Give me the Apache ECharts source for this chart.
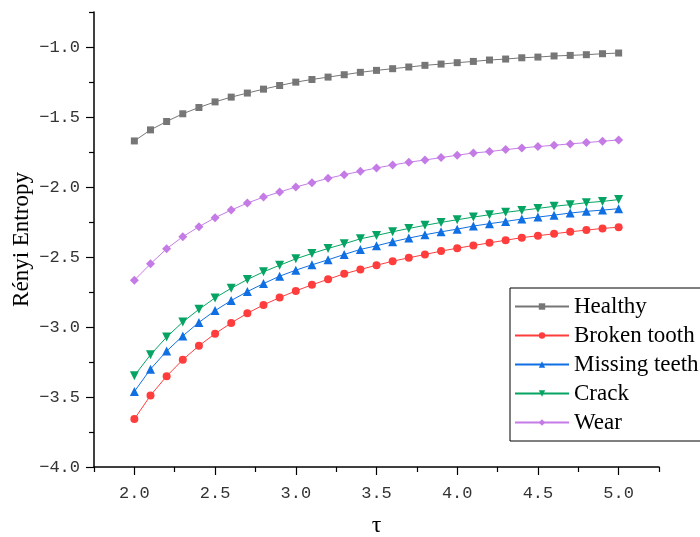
<!DOCTYPE html>
<html>
<head>
<meta charset="utf-8">
<title>Rényi Entropy vs tau</title>
<script src="https://cdn.jsdelivr.net/npm/echarts@6/dist/echarts.min.js"></script>
<style>
  html, body { margin: 0; padding: 0; background: #fff; }
  #chart { width: 700px; height: 537px; }
</style>
</head>
<body>
<div id="chart"></div>
<script>
// tau values 2.0 .. 5.0, step 0.1
const tau = [2.0, 2.1, 2.2, 2.3, 2.4, 2.5, 2.6, 2.7, 2.8, 2.9, 3.0, 3.1, 3.2, 3.3, 3.4, 3.5,
  3.6, 3.7, 3.8, 3.9, 4.0, 4.1, 4.2, 4.3, 4.4, 4.5, 4.6, 4.7, 4.8, 4.9, 5.0]

const healthy = [-1.671, -1.592, -1.532, -1.477, -1.432, -1.392, -1.358, -1.329, -1.301, -1.275,
  -1.251, -1.232, -1.215, -1.198, -1.181, -1.167, -1.155, -1.143, -1.131, -1.122, -1.112,
  -1.103, -1.093, -1.086, -1.077, -1.072, -1.064, -1.060, -1.055, -1.048, -1.043]

const brokenTooth = [-3.658, -3.489, -3.351, -3.234, -3.134, -3.048, -2.971, -2.902, -2.842, -2.790,
  -2.742, -2.699, -2.659, -2.620, -2.589, -2.559, -2.530, -2.506, -2.482, -2.458, -2.437,
  -2.418, -2.399, -2.380, -2.362, -2.348, -2.334, -2.320, -2.308, -2.296, -2.287]

const missingTeeth = [-3.461, -3.301, -3.172, -3.064, -2.967, -2.883, -2.811, -2.747, -2.690, -2.637,
  -2.594, -2.556, -2.520, -2.482, -2.446, -2.420, -2.391, -2.365, -2.341, -2.320, -2.301,
  -2.279, -2.262, -2.246, -2.229, -2.215, -2.201, -2.186, -2.174, -2.165, -2.155]

const crack = [-3.348, -3.198, -3.072, -2.964, -2.874, -2.792, -2.723, -2.661, -2.606, -2.559,
  -2.513, -2.475, -2.439, -2.406, -2.370, -2.346, -2.320, -2.296, -2.274, -2.253, -2.234,
  -2.215, -2.198, -2.181, -2.167, -2.153, -2.138, -2.126, -2.112, -2.103, -2.090]

const wear = [-2.666, -2.549, -2.441, -2.355, -2.284, -2.219, -2.165, -2.115, -2.072, -2.036,
  -2.000, -1.969, -1.938, -1.912, -1.888, -1.864, -1.843, -1.823, -1.807, -1.790, -1.773,
  -1.757, -1.747, -1.733, -1.721, -1.711, -1.702, -1.692, -1.683, -1.673, -1.664]

const seriesNames = ['Healthy', 'Broken tooth', 'Missing teeth', 'Crack', 'Wear']

// labelled (major) and unlabelled (minor) ticks
const xMajorTicks = [2.0, 2.5, 3.0, 3.5, 4.0, 4.5, 5.0]
const xMinorTicks = [1.75, 2.25, 2.75, 3.25, 3.75, 4.25, 4.75, 5.25]
const yMajorTicks = [-4.0, -3.5, -3.0, -2.5, -2.0, -1.5, -1.0]
const yMinorTicks = [-3.75, -3.25, -2.75, -2.25, -1.75, -1.25, -0.75]

const chart = echarts.init(document.getElementById('chart'))

const tickFont = 'Liberation Mono'
const textFont = 'Liberation Serif'

function pairs(values) {
  return tau.map((t, i) => [t, values[i]])
}

function makeSeries(name, values, color, symbol, size, rotate) {
  return {
    name: name,
    type: 'line',
    data: pairs(values),
    symbol: symbol,
    symbolSize: size,
    symbolRotate: rotate || 0,
    showAllSymbol: true,
    lineStyle: { color: color, width: 1 },
    itemStyle: { color: color },
    emphasis: { disabled: true }
  }
}

const xRange = { min: 1.75, max: 5.25, interval: 0.25 }
const yRange = { min: -4, max: -0.75, interval: 0.25 }

// second axis on the same grid only draws the short minor ticks
function minorAxis(range, ticks, position) {
  return Object.assign({
    type: 'value',
    position: position,
    splitLine: { show: false },
    axisLine: { show: false },
    axisLabel: { show: false },
    axisTick: { show: true, customValues: ticks, length: 5, lineStyle: { color: '#000', width: 1.2 } }
  }, range)
}

const option = {
  animation: false,
  grid: { left: 94, right: 41, top: 12, bottom: 70, outerBoundsMode: 'none', containLabel: false },
  legend: {
    data: seriesNames,
    orient: 'vertical',
    left: 510,
    top: 288,
    padding: [7, 2, 7, 4],
    itemWidth: 54,
    itemHeight: 8,
    itemGap: 6,
    borderColor: '#000',
    borderWidth: 1,
    backgroundColor: '#fff',
    textStyle: { fontFamily: textFont, fontSize: 23, color: '#000', lineHeight: 23 }
  },
  xAxis: [
    Object.assign({
      type: 'value',
      position: 'bottom',
      name: 'τ',
      nameLocation: 'middle',
      nameGap: 47,
      nameTextStyle: { fontFamily: textFont, fontSize: 24, color: '#000' },
      splitLine: { show: false },
      axisLine: { lineStyle: { color: '#000', width: 1.5 } },
      axisTick: { customValues: xMajorTicks, length: 8, lineStyle: { color: '#000', width: 1.2 } },
      axisLabel: {
        customValues: xMajorTicks,
        margin: 18,
        fontFamily: tickFont,
        fontSize: 17,
        color: '#333',
        formatter: v => v.toFixed(1)
      }
    }, xRange),
    minorAxis(xRange, xMinorTicks, 'bottom')
  ],
  yAxis: [
    Object.assign({
      type: 'value',
      position: 'left',
      name: 'Rényi Entropy',
      nameLocation: 'middle',
      nameGap: 61,
      nameMoveOverlap: false,
      nameTextStyle: { fontFamily: textFont, fontSize: 23, color: '#000' },
      splitLine: { show: false },
      axisLine: { show: true, lineStyle: { color: '#000', width: 1.5 } },
      axisTick: { show: true, customValues: yMajorTicks, length: 8, lineStyle: { color: '#000', width: 1.2 } },
      axisLabel: {
        customValues: yMajorTicks,
        margin: 14,
        fontFamily: tickFont,
        fontSize: 17,
        color: '#333',
        formatter: v => v.toFixed(1).replace('-', '\u2212')
      }
    }, yRange),
    minorAxis(yRange, yMinorTicks, 'left')
  ],
  series: [
    makeSeries('Healthy', healthy, '#767676', 'rect', 7),
    makeSeries('Broken tooth', brokenTooth, '#ff3d3d', 'circle', 8),
    makeSeries('Missing teeth', missingTeeth, '#0f6fe3', 'triangle', 9),
    makeSeries('Crack', crack, '#05a463', 'triangle', 9, 180),
    makeSeries('Wear', wear, '#c57be6', 'diamond', 9)
  ]
}

chart.setOption(option)
</script>
</body>
</html>
